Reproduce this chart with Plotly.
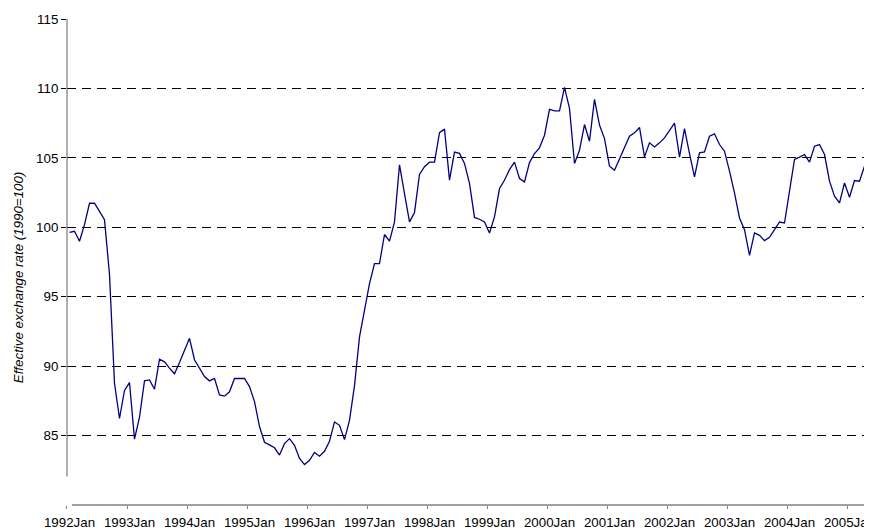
import plotly.graph_objects as go

# Monthly effective exchange rate index (1990=100), Jan 1992 - Jun 2005
values_1992 = [99.64, 99.71, 98.99, 100.19, 101.73, 101.73, 101.15, 100.55, 96.6, 88.77, 86.23, 88.25]
values_1993 = [88.82, 84.74, 86.32, 88.94, 89.01, 88.34, 90.50, 90.31, 89.86, 89.45, 90.26, 91.13]
values_1994 = [92.0, 90.46, 89.86, 89.25, 88.94, 89.11, 87.93, 87.84, 88.15, 89.11, 89.11, 89.11]
values_1995 = [88.53, 87.45, 85.65, 84.52, 84.33, 84.12, 83.6, 84.42, 84.78, 84.30, 83.35, 82.91]
values_1996 = [83.22, 83.78, 83.51, 83.87, 84.59, 85.98, 85.74, 84.71, 86.10, 88.6, 92.11, 94.03]
values_1997 = [95.95, 97.39, 97.39, 99.48, 99.0, 100.39, 104.50, 102.43, 100.39, 101.07, 103.80, 104.36]
values_1998 = [104.69, 104.69, 106.81, 107.07, 103.40, 105.41, 105.32, 104.60, 103.16, 100.71, 100.58, 100.38]
values_1999 = [99.59, 100.75, 102.79, 103.39, 104.16, 104.69, 103.51, 103.27, 104.66, 105.31, 105.72, 106.63]
values_2000 = [108.49, 108.39, 108.39, 110.07, 108.56, 104.59, 105.55, 107.40, 106.20, 109.21, 107.36, 106.39]
values_2001 = [104.40, 104.11, 104.95, 105.72, 106.56, 106.80, 107.19, 105.07, 106.08, 105.79, 106.08, 106.44]
values_2002 = [106.95, 107.5, 105.05, 107.1, 105.3, 103.63, 105.36, 105.43, 106.56, 106.73, 105.96, 105.48]
values_2003 = [104.04, 102.48, 100.67, 99.83, 97.98, 99.59, 99.42, 99.04, 99.28, 99.83, 100.38, 100.31]
values_2004 = [102.48, 104.88, 105.05, 105.24, 104.69, 105.84, 105.96, 105.24, 103.32, 102.24, 101.75, 103.20]
values_2005 = [102.16, 103.37, 103.32, 104.40, 103.68, 104.8]

values = (values_1992 + values_1993 + values_1994 + values_1995 + values_1996 + values_1997
          + values_1998 + values_1999 + values_2000 + values_2001 + values_2002 + values_2003
          + values_2004 + values_2005)

years = list(range(1992, 2006))
months = ["Jan", "Feb", "Mar", "Apr", "May", "Jun", "Jul", "Aug", "Sep", "Oct", "Nov", "Dec"]
categories = [f"{y}{m}" for y in years for m in months][:len(values)]
tick_labels = [f"{y}Jan" for y in years]
y_ticks = [85, 90, 95, 100, 105, 110, 115]
y_title = "Effective exchange rate (1990=100)"

x_idx = list(range(len(values)))
tick_pos = [categories.index(t) for t in tick_labels]

FONT = "Liberation Sans, Arial, sans-serif"

# the page body adds an 8px offset; the figure size/margins compensate for it
PAGE_OFF = 8
PLOT_W = 805
PLOT_H = 486.5

fig = go.Figure()
fig.add_trace(go.Scatter(
    x=x_idx, y=values, mode="lines",
    line=dict(color="#000080", width=1.3),
    text=categories, hoverinfo="text+y", showlegend=False,
))

fig.update_layout(
    width=872 - PAGE_OFF, height=530 - PAGE_OFF,
    margin=dict(l=67 - PAGE_OFF, r=0, t=19 - PAGE_OFF,
                b=530 - PAGE_OFF - (19 - PAGE_OFF) - PLOT_H, autoexpand=False),
    paper_bgcolor="white", plot_bgcolor="white",
    font=dict(family=FONT, size=13.33, color="black"),
    xaxis=dict(
        range=[-0.499, 160.5],
        tickvals=tick_pos, ticktext=tick_labels,
        ticks="", showgrid=False, zeroline=False, showline=False,
        tickfont=dict(family=FONT, size=13.33, color="black"),
        ticklabelstandoff=8,
        ticklabeloverflow="allow",
        automargin=False,
        minor=dict(ticks="outside", tick0=-0.5, dtick=12, ticklen=3,
                   tickcolor="#808080", tickwidth=1, showgrid=False),
    ),
    yaxis=dict(
        range=[80, 115],
        tickvals=y_ticks,
        ticks="outside", ticklen=5, tickcolor="#000000", tickwidth=1,
        showgrid=True, gridcolor="#000000", gridwidth=1, griddash="9px,6px",
        zeroline=False, showline=False,
        tickfont=dict(family=FONT, size=13.33, color="black"),
        automargin=False,
    ),
    shapes=[
        dict(type="line", xref="paper", yref="y", x0=0, x1=0, y0=82.05, y1=115,
             line=dict(color="#606060", width=1)),
        dict(type="line", xref="paper", yref="paper", x0=5 / PLOT_W, x1=1, y0=0, y1=0,
             line=dict(color="#808080", width=1.5)),
    ],
    annotations=[
        dict(text=f"<i>{y_title}</i>", xref="paper", yref="paper",
             x=(18 - 67) / PLOT_W, y=(505.5 - 277.5) / PLOT_H,
             xanchor="center", yanchor="middle", textangle=-90, showarrow=False,
             font=dict(family=FONT, size=13.33, color="black")),
    ],
)

fig.write_html("out.html")
